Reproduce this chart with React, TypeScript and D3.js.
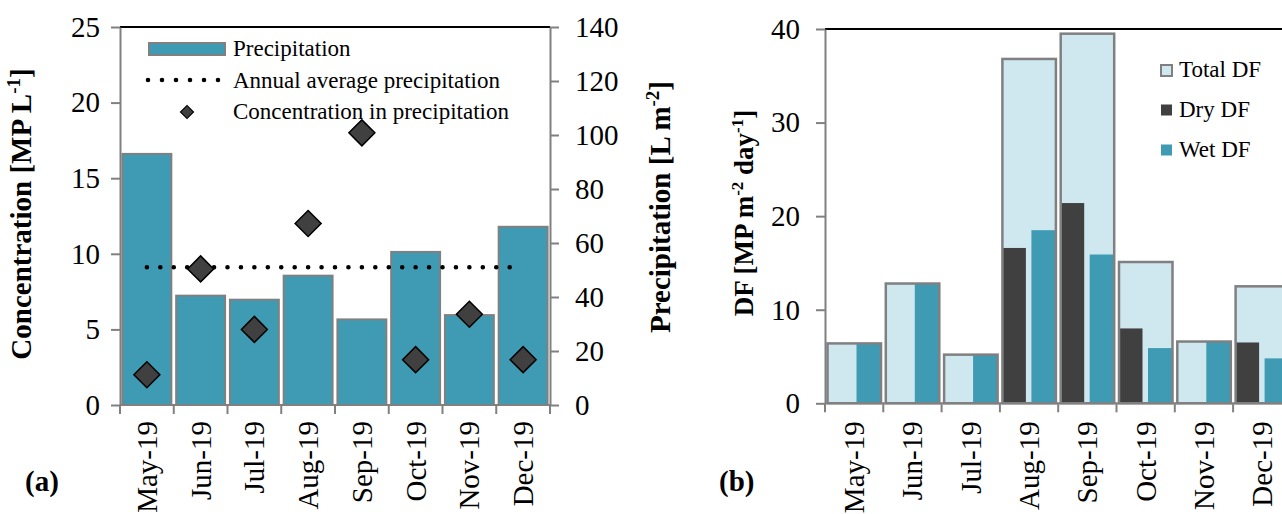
import { useEffect, useRef } from "react";
import * as d3 from "d3";

// data
const months = ["May-19", "Jun-19", "Jul-19", "Aug-19", "Sep-19", "Oct-19", "Nov-19", "Dec-19"];
const precipitation = [93.0, 40.5, 39.0, 47.9, 31.7, 56.7, 33.3, 66.0];
const concentration = [2, 9, 5, 12, 18, 3, 6, 3];
const annualAverage = 51.0;
const totalDF = [6.4, 12.8, 5.2, 36.8, 39.5, 15.1, 6.6, 12.5];
const dryDF = [0, 0, 0, 16.6, 21.4, 8.0, 0, 6.5];
const wetDF = [6.4, 12.8, 5.2, 18.5, 15.9, 5.9, 6.6, 4.8];
const concTicks = [0, 5, 10, 15, 20, 25];
const precTicks = [0, 20, 40, 60, 80, 100, 120, 140];
const dfTicks = [0, 10, 20, 30, 40];

const W = 1282;
const H = 514;
const font = "'Liberation Serif', 'Times New Roman', serif";
const teal = "#3f9bb4";
const light = "#cfe7ef";
const dark = "#404040";
const gray = "#808080";

// panel (a)
const aLeft = 120;
const aRight = 550;
const aTop = 27;
const aBottom = 405;
// panel (b)
const bLeft = 825;
const bStep = 58.3;
const bTop = 29;
const bBottom = 403.3;

const tickFont = 29;

const App = () => {
  const xA = d3.scaleBand().domain(months).range([aLeft, aRight]).paddingInner(0.09).paddingOuter(0.045);
  const xAEdge = d3.scaleBand().domain(months).range([aLeft, aRight]);
  const yConc = d3.scaleLinear().domain([0, 25]).range([aBottom, aTop]);
  const yPrec = d3.scaleLinear().domain([0, 140]).range([aBottom, aTop]);

  const xB = d3.scaleBand().domain(months).range([bLeft, bLeft + bStep * months.length]);
  const yDF = d3.scaleLinear().domain([0, 40]).range([bBottom, bTop]);

  const concAxis = useRef<SVGGElement>(null);
  const precAxis = useRef<SVGGElement>(null);
  const dfAxis = useRef<SVGGElement>(null);

  useEffect(() => {
    const styleAxis = (g: any) => {
      g.attr("font-family", null).attr("font-size", null);
      g.select(".domain").attr("stroke", gray).attr("stroke-width", 2);
      g.selectAll(".tick line").attr("stroke", gray).attr("stroke-width", 2);
      g.selectAll("text").attr("font-size", tickFont).attr("font-family", font).attr("fill", "#000");
    };
    d3.select(concAxis.current)
      .call(d3.axisLeft(yConc).tickValues(concTicks).tickSize(9).tickSizeOuter(0).tickPadding(11))
      .call(styleAxis);
    d3.select(precAxis.current)
      .call(d3.axisRight(yPrec).tickValues(precTicks).tickSize(9).tickSizeOuter(0).tickPadding(16))
      .call(styleAxis);
    d3.select(dfAxis.current)
      .call(d3.axisLeft(yDF).tickValues(dfTicks).tickSize(9).tickSizeOuter(0).tickPadding(16))
      .call(styleAxis);
  }, [yConc, yPrec, yDF]);

  const diamond = d3.symbol(d3.symbolSquare, 338)();
  const smallDiamond = d3.symbol(d3.symbolSquare, 84)();
  const half = xAEdge.bandwidth() / 2;

  return (
    <svg
      width={W}
      height={H}
      viewBox={`0 0 ${W} ${H}`}
      style={{ position: "absolute", left: 0, top: 0, background: "#fff" }}
      fontFamily={font}
    >
      {/* ---------- panel (a) ---------- */}
      <g className="bars-a">
        {months.map((m, i) => (
          <rect
            key={m}
            x={xA(m)}
            y={yPrec(precipitation[i])}
            width={xA.bandwidth()}
            height={aBottom - yPrec(precipitation[i])}
            fill={teal}
            stroke={gray}
            strokeWidth={2}
          />
        ))}
      </g>
      <line
        x1={xAEdge(months[0])! + half}
        x2={xAEdge(months[months.length - 1])! + half}
        y1={yPrec(annualAverage)}
        y2={yPrec(annualAverage)}
        stroke="#000"
        strokeWidth={4.6}
        strokeDasharray={`0 ${(xAEdge.step() * (months.length - 1)) / 28}`}
        strokeLinecap="round"
      />
      <g className="diamonds">
        {months.map((m, i) => (
          <path
            key={m}
            d={diamond!}
            transform={`translate(${xAEdge(m)! + half},${yConc(concentration[i])}) rotate(45)`}
            fill={dark}
            stroke="#000"
            strokeWidth={1.5}
          />
        ))}
      </g>
      <line x1={aLeft} x2={aRight} y1={aTop} y2={aTop} stroke="#000" strokeWidth={2} />
      <g ref={concAxis} transform={`translate(${aLeft},0)`} />
      <g ref={precAxis} transform={`translate(${aRight},0)`} />
      <g className="x-axis-a">
        <line x1={aLeft} x2={aRight} y1={aBottom} y2={aBottom} stroke={gray} strokeWidth={2} />
        {[...months.map((m) => xAEdge(m)!), aRight].map((x, i) => (
          <line key={i} x1={x} x2={x} y1={aBottom} y2={aBottom + 9} stroke={gray} strokeWidth={2} />
        ))}
        {months.map((m) => (
          <text
            key={m}
            transform={`translate(${xAEdge(m)! + half + 10},${aBottom + 16}) rotate(-90)`}
            textAnchor="end"
            fontSize={tickFont}
          >
            {m}
          </text>
        ))}
      </g>
      <text transform={`translate(31,214) rotate(-90)`} textAnchor="middle" fontSize={29} fontWeight="bold">
        Concentration [MP L<tspan dy={-11} fontSize={19}>-1</tspan>
        <tspan dy={11}>]</tspan>
      </text>
      <text transform={`translate(670,207) rotate(-90)`} textAnchor="middle" fontSize={29} fontWeight="bold">
        Precipitation [L m<tspan dy={-11} fontSize={19}>-2</tspan>
        <tspan dy={11}>]</tspan>
      </text>
      <g className="legend-a" fontSize={23}>
        <rect x={149} y={43} width={76} height={12} fill={teal} stroke={gray} strokeWidth={2} />
        <text x={233} y={56}>Precipitation</text>
        <line x1={148} x2={219} y1={80} y2={80} stroke="#000" strokeWidth={4.6} strokeDasharray="0 14" strokeLinecap="round" />
        <text x={233} y={88}>Annual average precipitation</text>
        <path d={smallDiamond!} transform="translate(187,112) rotate(45)" fill={dark} stroke="#000" strokeWidth={1.2} />
        <text x={233} y={119}>Concentration in precipitation</text>
      </g>
      <text x={25} y={491} fontSize={29} fontWeight="bold">(a)</text>

      {/* ---------- panel (b) ---------- */}
      <g className="bars-b">
        {months.map((m, i) => (
          <g key={m}>
            <rect
              x={xB(m)! + 2.5}
              y={yDF(totalDF[i])}
              width={53.5}
              height={bBottom - yDF(totalDF[i])}
              fill={light}
            />
            <rect
              x={xB(m)! + 2.5}
              y={yDF(dryDF[i])}
              width={23.5}
              height={bBottom - yDF(dryDF[i])}
              fill={dark}
            />
            <rect
              x={xB(m)! + 31.5}
              y={yDF(wetDF[i])}
              width={24.5}
              height={bBottom - yDF(wetDF[i])}
              fill={teal}
            />
            <rect
              x={xB(m)! + 2.5}
              y={yDF(totalDF[i])}
              width={53.5}
              height={bBottom - yDF(totalDF[i])}
              fill="none"
              stroke={gray}
              strokeWidth={2.5}
            />
          </g>
        ))}
      </g>
      <line x1={bLeft} x2={W} y1={bTop} y2={bTop} stroke="#000" strokeWidth={2} />
      <g ref={dfAxis} transform={`translate(${bLeft},0)`} />
      <g className="x-axis-b">
        <line x1={bLeft} x2={W} y1={bBottom} y2={bBottom} stroke={gray} strokeWidth={2} />
        {months.map((m) => (
          <line key={m} x1={xB(m)} x2={xB(m)} y1={bBottom} y2={bBottom + 9} stroke={gray} strokeWidth={2} />
        ))}
        {months.map((m) => (
          <text
            key={m}
            transform={`translate(${xB(m)! + xB.bandwidth() / 2 + 10},${bBottom + 18}) rotate(-90)`}
            textAnchor="end"
            fontSize={tickFont}
          >
            {m}
          </text>
        ))}
      </g>
      <text transform={`translate(753,213) rotate(-90)`} textAnchor="middle" fontSize={27} fontWeight="bold">
        DF [MP m<tspan dy={-10} fontSize={17}>-2</tspan>
        <tspan dy={10}> day</tspan>
        <tspan dy={-10} fontSize={17}>-1</tspan>
        <tspan dy={10}>]</tspan>
      </text>
      <g className="legend-b" fontSize={23}>
        <rect x={1161} y={65} width={11} height={11} fill={light} stroke={gray} strokeWidth={2} />
        <text x={1179} y={77}>Total DF</text>
        <rect x={1161} y={104.5} width={11} height={11} fill={dark} />
        <text x={1179} y={117}>Dry DF</text>
        <rect x={1161} y={144.5} width={11} height={11} fill={teal} />
        <text x={1179} y={157}>Wet DF</text>
      </g>
      <text x={719} y={491} fontSize={29} fontWeight="bold">(b)</text>
    </svg>
  );
};

export default App;
